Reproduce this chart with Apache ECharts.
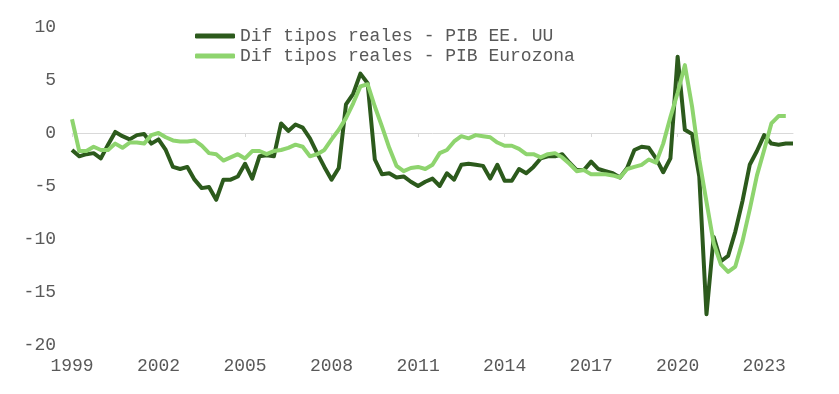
<!DOCTYPE html>
<html>
<head>
<meta charset="utf-8">
<script src="https://cdn.jsdelivr.net/npm/echarts@6/dist/echarts.min.js"></script>
<style>
html,body{margin:0;padding:0;background:#fff;}
#chart{width:839px;height:394px;}
</style>
</head>
<body>
<div id="chart"></div>
<script>
// Quarterly categories 1999 Q1 .. 2024 Q1
var startYear = 1999;
var quarterCount = 101;
var categories = [];
for (var k = 0; k < quarterCount; k++) {
  categories.push((startYear + Math.floor(k / 4)) + 'T' + (k % 4 + 1));
}

var seriesNames = ['Dif tipos reales - PIB EE. UU', 'Dif tipos reales - PIB Eurozona'];

var usValues = [
  -1.6, -2.2, -2.0, -1.9, -2.4, -1.1, 0.1, -0.3, -0.6, -0.2,
  -0.1, -1.0, -0.6, -1.6, -3.2, -3.4, -3.2, -4.4, -5.2, -5.1,
  -6.3, -4.4, -4.4, -4.1, -2.9, -4.3, -2.2, -2.1, -2.2, 0.9,
  0.2, 0.8, 0.5, -0.5, -1.9, -3.2, -4.4, -3.3, 2.7, 3.7,
  5.6, 4.7, -2.5, -3.9, -3.8, -4.2, -4.1, -4.6, -5.0, -4.6,
  -4.3, -5.0, -3.8, -4.4, -3.0, -2.9, -3.0, -3.1, -4.3, -3.0,
  -4.5, -4.5, -3.4, -3.8, -3.2, -2.4, -2.2, -2.2, -2.0, -2.8,
  -3.5, -3.5, -2.7, -3.4, -3.6, -3.8, -4.2, -3.3, -1.6, -1.3,
  -1.4, -2.4, -3.7, -2.4, 7.2, 0.3, -0.1, -4.1, -17.1, -9.8,
  -12.1, -11.6, -9.3, -6.4, -3.0, -1.7, -0.2, -1.0, -1.1, -1.0,
  -1.0
];

var ezValues = [
  1.3, -1.7, -1.7, -1.3, -1.6, -1.6, -1.0, -1.4, -0.9, -0.9,
  -1.0, -0.2, 0.0, -0.4, -0.7, -0.8, -0.8, -0.7, -1.2, -1.9,
  -2.0, -2.6, -2.3, -2.0, -2.4, -1.7, -1.7, -2.0, -1.7, -1.6,
  -1.4, -1.1, -1.3, -2.2, -2.0, -1.6, -0.6, 0.3, 1.4, 2.8,
  4.4, 4.6, 2.5, 0.6, -1.4, -3.1, -3.6, -3.3, -3.2, -3.4,
  -3.0, -1.9, -1.6, -0.8, -0.3, -0.5, -0.2, -0.3, -0.4, -0.9,
  -1.2, -1.2, -1.5, -2.0, -2.0, -2.3, -2.0, -1.9, -2.3, -2.9,
  -3.6, -3.5, -3.9, -3.9, -3.9, -4.0, -4.2, -3.4, -3.2, -3.0,
  -2.5, -2.8, -1.0, 1.5, 3.8, 6.4, 2.5, -2.5, -6.5, -10.4,
  -12.4, -13.1, -12.6, -10.2, -7.2, -4.0, -1.6, 0.9, 1.6, 1.6
];

var yTicks = { min: -20, max: 10, interval: 5 };

var fontFam = '"Liberation Mono", "DejaVu Sans Mono", monospace';
var textColor = '#595959';
var darkGreen = '#2c5a1c';
var lightGreen = '#8ed46e';

var chart = echarts.init(document.getElementById('chart'), null, { renderer: 'canvas' });
chart.setOption({
  animation: false,
  backgroundColor: '#ffffff',
  grid: { left: 72, right: 46, top: 27, bottom: 49, containLabel: false },
  legend: {
    orient: 'vertical',
    left: 195,
    top: 27,
    padding: 0,
    itemWidth: 40,
    itemHeight: 5,
    itemGap: 2,
    icon: 'roundRect',
    textStyle: { fontFamily: fontFam, fontSize: 18, color: textColor, lineHeight: 18 },
    data: seriesNames
  },
  xAxis: [
    {
      type: 'category',
      data: categories,
      boundaryGap: false,
      position: 'bottom',
      axisLine: { show: false, onZero: false },
      axisTick: { show: false },
      splitLine: { show: false },
      axisLabel: {
        interval: 11,
        margin: 12,
        fontFamily: fontFam,
        fontSize: 18,
        color: textColor,
        formatter: function (v) { return v.slice(0, 4); }
      }
    },
    {
      type: 'category',
      data: categories,
      boundaryGap: false,
      position: 'top',
      axisLine: { show: true, onZero: true, lineStyle: { color: '#d9d9d9', width: 1 } },
      axisTick: { show: true, inside: true, length: 4, interval: 11, lineStyle: { color: '#d9d9d9' } },
      axisLabel: { show: false },
      splitLine: { show: false }
    }
  ],
  yAxis: {
    type: 'value',
    min: yTicks.min,
    max: yTicks.max,
    interval: yTicks.interval,
    axisLine: { show: false },
    axisTick: { show: false },
    splitLine: { show: false },
    axisLabel: { margin: 16, fontFamily: fontFam, fontSize: 18, color: textColor }
  },
  series: [
    {
      name: seriesNames[0],
      type: 'line',
      xAxisIndex: 0,
      data: usValues,
      showSymbol: false,
      symbol: 'none',
      lineStyle: { color: darkGreen, width: 4, join: 'round', cap: 'butt' },
      itemStyle: { color: darkGreen }
    },
    {
      name: seriesNames[1],
      type: 'line',
      xAxisIndex: 0,
      data: ezValues,
      showSymbol: false,
      symbol: 'none',
      lineStyle: { color: lightGreen, width: 4, join: 'round', cap: 'butt' },
      itemStyle: { color: lightGreen }
    }
  ]
});
</script>
</body>
</html>
